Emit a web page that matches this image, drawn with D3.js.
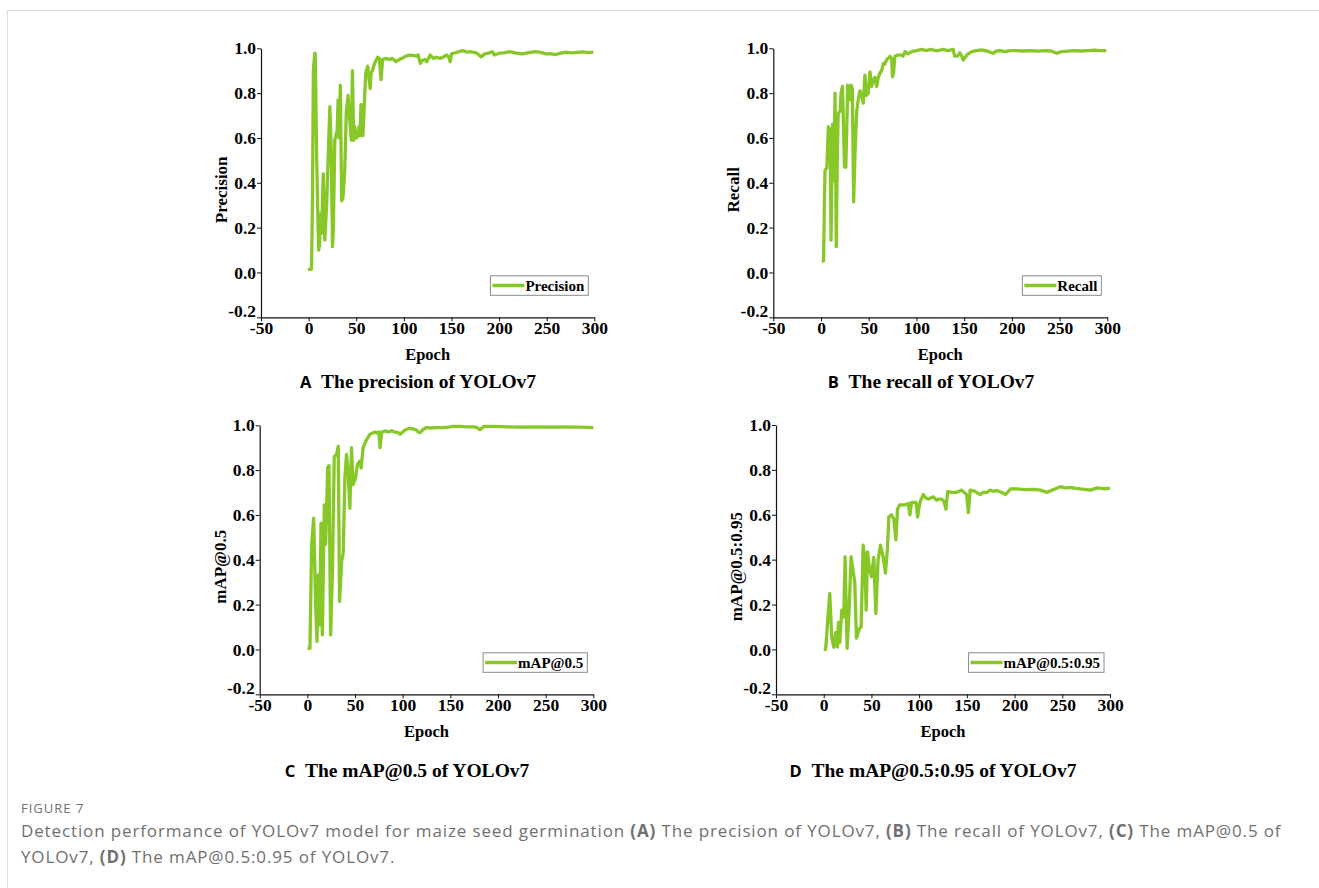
<!DOCTYPE html>
<html>
<head>
<meta charset="utf-8">
<script src="https://cdn.jsdelivr.net/npm/d3@7"></script>
<style>
  body { margin: 0; background: #fff; }
  svg { display: block; }
</style>
</head>
<body>
<div id="fig"></div>
<script>
// values, [epoch, value]
var precisionData = [[0,0.02],[1,0.013],[3,0.015],[4,0.3],[5,0.9],[6.5,0.978],[7,0.97],[8.5,0.5],[10.5,0.10],[11.5,0.12],[12.3,0.26],[13.6,0.175],[15.4,0.44],[17,0.145],[18.9,0.30],[20.6,0.52],[22.3,0.74],[23.7,0.55],[25.1,0.115],[26,0.2],[27.5,0.59],[30,0.635],[31,0.77],[32,0.6],[33.3,0.836],[34.7,0.32],[36,0.33],[37.9,0.45],[39.6,0.72],[41.4,0.79],[43,0.69],[44.9,0.59],[46,0.90],[47.3,0.59],[48.4,0.65],[50,0.6],[51.9,0.61],[53,0.65],[54,0.61],[55,0.75],[56,0.65],[57,0.61],[58.5,0.75],[60,0.89],[62,0.92],[64.6,0.82],[65.6,0.89],[67,0.9],[69,0.93],[72.5,0.96],[74.3,0.955],[76,0.86],[77.8,0.95],[81,0.955],[85,0.95],[88,0.955],[91.8,0.94],[95,0.95],[98,0.955],[102,0.965],[106,0.97],[110,0.968],[113,0.965],[115,0.97],[117.3,0.933],[119,0.945],[122,0.95],[124,0.94],[127.7,0.97],[131,0.955],[134,0.96],[138,0.955],[141,0.96],[145,0.97],[147,0.96],[148.7,0.94],[150,0.975],[154,0.98],[158,0.985],[162,0.99],[166,0.983],[170,0.985],[176,0.98],[179,0.97],[181,0.962],[185,0.975],[190,0.98],[193,0.985],[195,0.97],[200,0.978],[205,0.98],[211,0.985],[217,0.98],[224,0.975],[230,0.98],[238,0.985],[244,0.982],[249,0.975],[254,0.976],[259,0.972],[264,0.977],[270,0.983],[276,0.98],[282,0.982],[288,0.984],[294,0.981],[299,0.983]];

var recallData = [[0.7,0.05],[2.7,0.052],[3.5,0.3],[4.2,0.457],[6,0.465],[7.7,0.65],[8.5,0.55],[9.5,0.64],[10.5,0.144],[12,0.66],[13.2,0.41],[14.7,0.80],[16,0.115],[17,0.5],[18,0.71],[20,0.72],[21,0.8],[22.5,0.83],[24.6,0.47],[26,0.47],[28,0.836],[30,0.77],[31.5,0.836],[32.8,0.82],[34.2,0.315],[35.6,0.53],[37.4,0.72],[39,0.77],[40.8,0.81],[42.5,0.79],[44.3,0.755],[46,0.88],[47.8,0.79],[49.5,0.8],[51.3,0.895],[53,0.83],[55,0.86],[56.5,0.87],[58.3,0.83],[60,0.87],[61.8,0.89],[63.5,0.9],[65.3,0.933],[67,0.93],[68.8,0.95],[70.5,0.955],[72.3,0.964],[74,0.955],[75,0.873],[76.2,0.9],[77.5,0.964],[80,0.97],[84.5,0.97],[86,0.965],[88,0.985],[91,0.975],[95,0.985],[100,0.99],[105.5,0.995],[110,0.99],[115,0.995],[120,0.99],[123,0.99],[128,0.995],[133,0.99],[138.5,0.995],[140,0.965],[143,0.965],[145.5,0.98],[147,0.97],[149,0.948],[151,0.96],[154,0.975],[158,0.985],[163,0.99],[168,0.993],[172,0.99],[176,0.985],[180,0.978],[184,0.988],[188,0.99],[193,0.985],[198,0.99],[205,0.99],[212,0.988],[220,0.99],[228,0.987],[235,0.99],[241,0.988],[247,0.978],[252,0.985],[258,0.987],[265,0.99],[272,0.988],[280,0.99],[287,0.992],[293,0.99],[299,0.99]];

var map50Data = [[0.3,0.006],[2.7,0.005],[4.5,0.467],[6.6,0.586],[8.7,0.2],[10.1,0.036],[11.5,0.333],[12.9,0.11],[14.3,0.564],[15.7,0.065],[17.8,0.645],[19.2,0.47],[21.3,0.81],[22.7,0.82],[24.4,0.065],[26.5,0.38],[28.2,0.86],[30.6,0.87],[32.4,0.906],[33.8,0.214],[35.9,0.39],[37.6,0.43],[39.4,0.765],[41.1,0.87],[42.9,0.78],[44.6,0.63],[46.3,0.90],[48,0.735],[50.5,0.765],[52.6,0.825],[55,0.84],[56.5,0.81],[58.5,0.90],[62,0.935],[65.5,0.958],[68,0.965],[70.7,0.97],[73,0.965],[75,0.97],[76.3,0.90],[78,0.97],[82,0.975],[85,0.97],[88.5,0.975],[92,0.97],[95,0.968],[97.3,0.96],[100,0.97],[103,0.98],[106,0.985],[110,0.985],[114,0.98],[116.5,0.97],[118.5,0.967],[121,0.98],[125,0.99],[130,0.988],[135,0.99],[142,0.99],[148,0.992],[153,0.995],[160,0.995],[168,0.993],[175,0.993],[178,0.99],[181,0.98],[185,0.995],[195,0.995],[210,0.993],[225,0.992],[240,0.993],[255,0.992],[270,0.993],[285,0.992],[300,0.99]];

var map5095Data = [[0,0],[2,0],[6.3,0.25],[8.4,0.056],[10.5,0.01],[12.6,0.075],[14.3,0.01],[15.4,0.12],[16.8,0.03],[18.9,0.175],[21,0.145],[22.4,0.413],[24.5,0.005],[26.6,0.175],[28.7,0.413],[30.8,0.35],[32.5,0.3],[34.3,0.05],[37.1,0.09],[39.2,0.10],[41.3,0.465],[43.1,0.40],[44.5,0.175],[45.9,0.435],[47.6,0.37],[50,0.324],[52.5,0.41],[54.6,0.16],[57,0.40],[59.5,0.465],[62.3,0.41],[64.7,0.34],[66.8,0.45],[68.2,0.59],[71,0.60],[73.5,0.58],[75.6,0.488],[77.3,0.625],[79.8,0.644],[85,0.644],[88.6,0.65],[90.3,0.60],[92,0.655],[96.7,0.655],[98.4,0.59],[100.8,0.655],[104.3,0.69],[107,0.675],[109.6,0.67],[112,0.675],[114.8,0.68],[118.3,0.665],[121,0.67],[123.6,0.67],[126,0.66],[128.1,0.625],[129.9,0.703],[134,0.7],[139.3,0.70],[142,0.705],[144.6,0.71],[147,0.7],[149.8,0.69],[151.6,0.61],[153.4,0.71],[158,0.705],[163.9,0.69],[167,0.7],[170.9,0.70],[174.4,0.71],[178,0.705],[181.4,0.708],[186,0.7],[190.5,0.69],[195.8,0.715],[202.8,0.715],[210,0.712],[220,0.713],[227,0.71],[234,0.70],[241,0.713],[248,0.725],[253,0.72],[258.6,0.722],[264,0.718],[269,0.715],[274,0.713],[279.6,0.71],[286.6,0.72],[293,0.716],[299.9,0.718]];

var xTicks = [-50, 0, 50, 100, 150, 200, 250, 300];
var yTicks = [-0.2, 0.0, 0.2, 0.4, 0.6, 0.8, 1.0];
var panelLetters = ["A", "B", "C", "D"];
var panelTitles = ["The precision of YOLOv7", "The recall of YOLOv7", "The mAP@0.5 of YOLOv7", "The mAP@0.5:0.95 of YOLOv7"];
var seriesNames = ["Precision", "Recall", "mAP@0.5", "mAP@0.5:0.95"];

var W = 1319, H = 888;
var green = "#87c828";
var serif = "'Liberation Serif', 'Times New Roman', serif";
var sans = "'Open Sans', 'Noto Sans', sans-serif";

var svg = d3.select("#fig").append("svg")
  .attr("width", W)
  .attr("height", H);

// page frame lines
svg.append("line").attr("x1", 7).attr("x2", W).attr("y1", 10.5).attr("y2", 10.5)
  .attr("stroke", "#dcdcdc");
svg.append("line").attr("x1", 7.5).attr("x2", 7.5).attr("y1", 10).attr("y2", H)
  .attr("stroke", "#dcdcdc");

var panels = [
  {data: precisionData, left: 261, right: 594.3, top: 48.3, bottom: 317.3, titleX: 418, titleY: 388},
  {data: recallData, left: 773.3, right: 1107.3, top: 48.3, bottom: 317.3, titleX: 931, titleY: 388},
  {data: map50Data, left: 259.7, right: 593.3, top: 425.3, bottom: 694.3, titleX: 407, titleY: 777},
  {data: map5095Data, left: 776, right: 1110, top: 425, bottom: 694.3, titleX: 933, titleY: 777}
];

var hyphen = f => (v => f(v).replace("\u2212", "-"));

panels.forEach(function(p, i) {
  var x = d3.scaleLinear().domain([-50, 300]).range([p.left, p.right]);
  var y = d3.scaleLinear().domain([-0.2, 1.0]).range([p.bottom, p.top]);

  var g = svg.append("g");

  var line = d3.line()
    .x(d => x(d[0]))
    .y(d => y(d[1]));

  g.append("path")
    .datum(p.data)
    .attr("fill", "none")
    .attr("stroke", green)
    .attr("stroke-width", 3.3)
    .attr("stroke-linejoin", "round")
    .attr("d", line);

  var xAxis = g.append("g")
    .attr("transform", `translate(0,${p.bottom})`)
    .call(d3.axisBottom(x).tickValues(xTicks).tickFormat(hyphen(d3.format("d")))
      .tickSize(4).tickSizeOuter(0).tickPadding(0));
  var yAxis = g.append("g")
    .attr("transform", `translate(${p.left},0)`)
    .call(d3.axisLeft(y).tickValues(yTicks).tickFormat(hyphen(d3.format(".1f")))
      .tickSize(4).tickSizeOuter(0).tickPadding(1));

  [xAxis, yAxis].forEach(function(a) {
    a.select(".domain").attr("stroke", "#111").attr("stroke-width", 1.2);
    a.selectAll(".tick line").attr("stroke", "#111");
    a.selectAll("text")
      .style("font-family", serif)
      .style("font-weight", "bold")
      .style("font-size", "17.5px")
      .attr("fill", "#000");
  });
  // the lowest y label sits a touch higher so it clears the -50 label
  yAxis.selectAll(".tick text").filter(d => d < -0.1).attr("dy", "-0.05em");

  // axis titles
  g.append("text")
    .attr("x", (p.left + p.right) / 2)
    .attr("y", p.bottom + 43)
    .attr("text-anchor", "middle")
    .style("font-family", serif).style("font-weight", "bold").style("font-size", "16.5px")
    .text("Epoch");
  g.append("text")
    .attr("transform", `translate(${p.left - 34},${(p.top + p.bottom) / 2 + 7}) rotate(-90)`)
    .attr("text-anchor", "middle")
    .style("font-family", serif).style("font-weight", "bold").style("font-size", "17px")
    .text(seriesNames[i]);

  // legend
  var leg = g.append("g");
  var lt = leg.append("text")
    .style("font-family", serif).style("font-weight", "bold").style("font-size", "15px")
    .text(seriesNames[i]);
  var tw = lt.node().getComputedTextLength();
  var boxW = tw + 39, boxH = 19.5;
  var bx = p.right - 6 - boxW, by = p.bottom - 22 - boxH;
  leg.insert("rect", "text")
    .attr("x", bx).attr("y", by).attr("width", boxW).attr("height", boxH)
    .attr("fill", "#fff").attr("stroke", "#8a8a8a").attr("stroke-width", 1);
  leg.append("line")
    .attr("x1", bx + 2).attr("x2", bx + 34)
    .attr("y1", by + boxH / 2).attr("y2", by + boxH / 2)
    .attr("stroke", green).attr("stroke-width", 3.5);
  lt.attr("x", bx + 35).attr("y", by + boxH / 2 + 5);

  // panel subtitle
  var st = svg.append("text")
    .attr("x", p.titleX).attr("y", p.titleY)
    .attr("text-anchor", "middle");
  st.append("tspan")
    .style("font-family", sans).style("font-weight", "bold").style("font-size", "16.5px")
    .text(panelLetters[i]);
  st.append("tspan")
    .style("font-family", serif).style("font-weight", "bold").style("font-size", "19.5px")
    .text("\u2002" + panelTitles[i]);
});

// caption
var capColor = "#707070";
svg.append("text")
  .attr("x", 21).attr("y", 813)
  .style("font-family", sans).style("font-size", "13px").style("letter-spacing", "1px")
  .attr("fill", capColor)
  .text("FIGURE 7");

var capLines = [
  [["Detection performance of YOLOv7 model for maize seed germination ", 0], ["(A)", 1], [" The precision of YOLOv7, ", 0], ["(B)", 1], [" The recall of YOLOv7, ", 0], ["(C)", 1], [" The mAP@0.5 of", 0]],
  [["YOLOv7, ", 0], ["(D)", 1], [" The mAP@0.5:0.95 of YOLOv7.", 0]]
];
capLines.forEach(function(parts, k) {
  var t = svg.append("text")
    .attr("x", 21).attr("y", 837 + k * 26)
    .style("font-family", sans).style("font-size", "17px").style("letter-spacing", "0.87px")
    .attr("fill", capColor);
  parts.forEach(function(pt) {
    t.append("tspan")
      .style("font-weight", pt[1] ? "bold" : "normal")
      .text(pt[0]);
  });
});
</script>
</body>
</html>
